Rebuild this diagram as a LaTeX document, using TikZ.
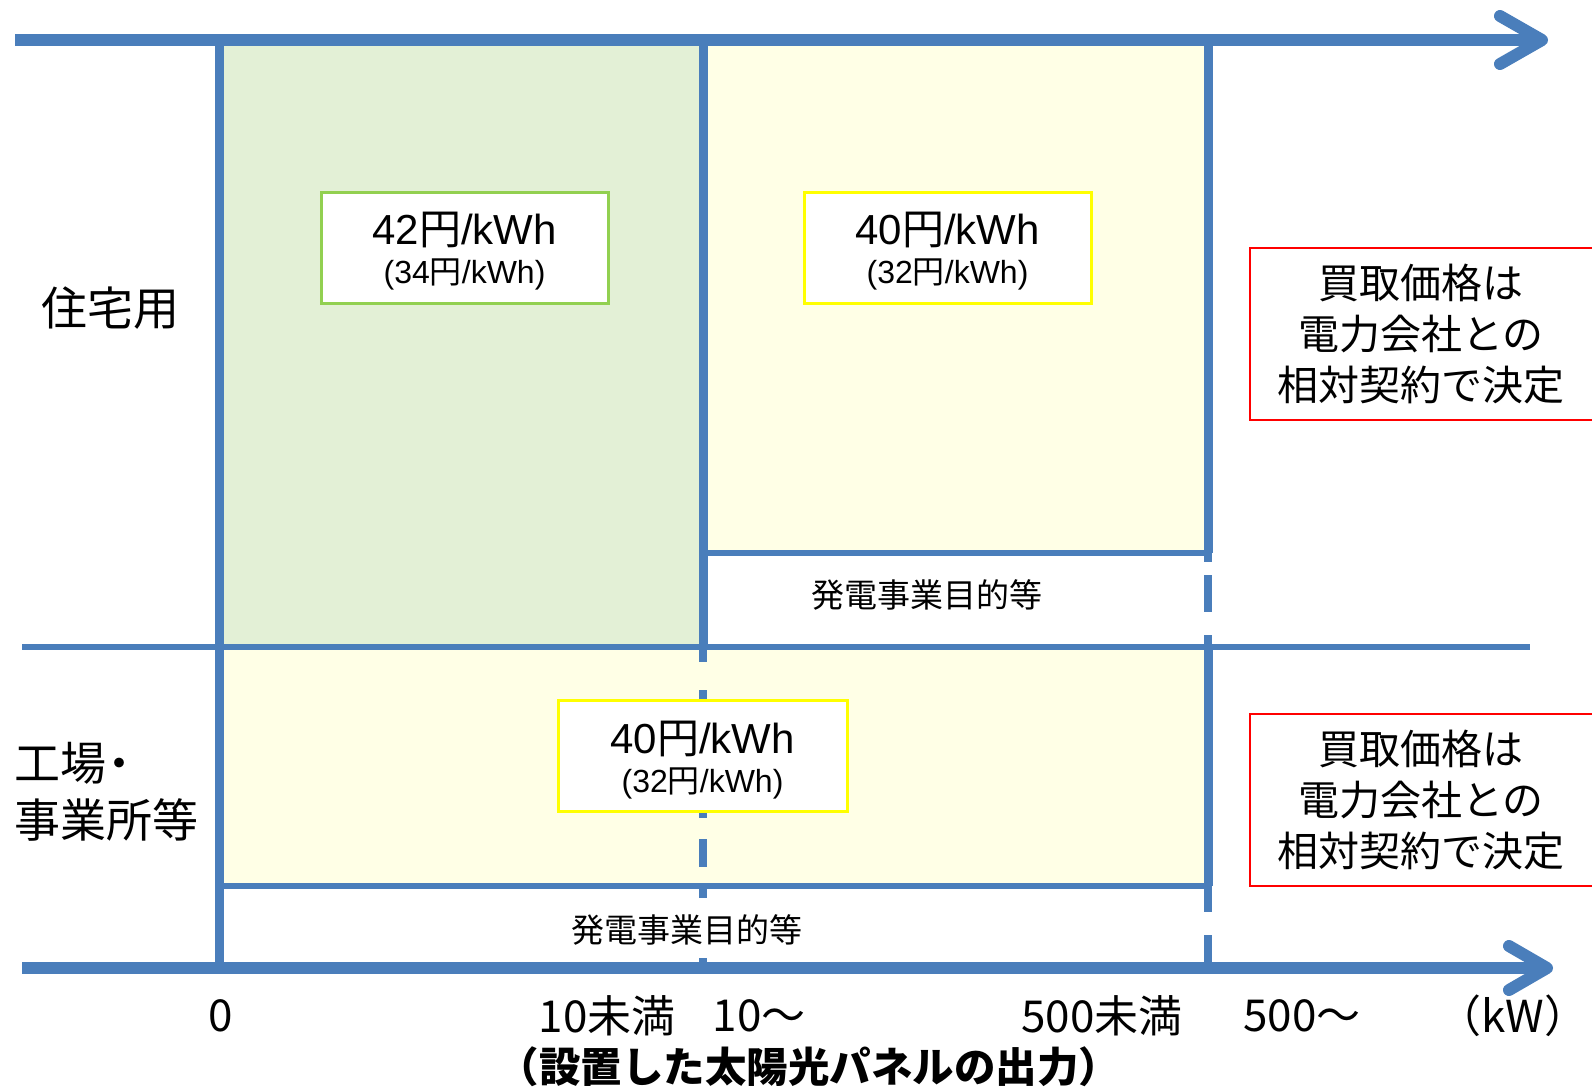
\documentclass[tikz,border=0pt]{standalone}
\usepackage{fontspec}
\setmainfont{Liberation Sans}
\newfontfamily\jp{Noto Sans CJK JP}
\definecolor{axisblue}{RGB}{74,126,187}
\definecolor{greenfill}{RGB}{227,240,214}
\definecolor{yellowfill}{RGB}{255,255,230}
\definecolor{greenedge}{RGB}{146,208,80}
\definecolor{yellowedge}{RGB}{255,255,0}
\definecolor{rededge}{RGB}{255,0,0}
\begin{document}
\begin{tikzpicture}[x=1pt,y=-1pt,
  axis/.style={draw=axisblue,line width=12pt},
  vline/.style={draw=axisblue,line width=9pt},
  hline/.style={draw=axisblue,line width=6pt},
  dashline/.style={draw=axisblue,line width=8pt},
  tipline/.style={draw=axisblue,line width=12pt,line cap=round,line join=round},
  pricebox/.style={line width=3pt,fill=white,minimum width=287pt,minimum height=111pt,inner sep=0pt},
  notebox/.style={draw=rededge,line width=1.5pt,fill=white},
  bigp/.style={inner sep=0pt,font=\fontsize{42}{42}\selectfont},
  smallp/.style={inner sep=0pt,font=\fontsize{32}{32}\selectfont},
  lbl/.style={inner sep=0pt,font=\jp\fontsize{46}{57}\selectfont},
  note/.style={inner sep=0pt,align=center,font=\jp\fontsize{41}{51}\selectfont},
  purpose/.style={inner sep=0pt,font=\jp\fontsize{33}{33}\selectfont},
  tick/.style={inner sep=0pt,font=\jp\fontsize{44}{44}\selectfont},
]
\useasboundingbox[fill=white] (0,0) rectangle (1592,1088);
% fills
\fill[greenfill] (219,40) rectangle (703,647);
\fill[yellowfill] (703,40) rectangle (1208,553);
\fill[yellowfill] (219,647) rectangle (1208,886);
% coordinates
\coordinate (tA) at (15,40);
\coordinate (tB) at (1542,40);
\coordinate (bA) at (22,968);
\coordinate (bB) at (1547,968);
\coordinate (x0t) at (219,40);
\coordinate (x0b) at (219,968);
\coordinate (x10t) at (703,40);
\coordinate (x10a) at (703,553);
\coordinate (x10m) at (703,647);
\coordinate (x10c) at (703,886);
\coordinate (x10b) at (703,968);
\coordinate (x500t) at (1208,40);
\coordinate (x500a) at (1208,553);
\coordinate (x500m) at (1208,647);
\coordinate (x500c) at (1208,886);
\coordinate (x500b) at (1208,968);
\coordinate (x0c) at (219,886);
\coordinate (sepL) at (22,647);
\coordinate (sepR) at (1530,647);
% lines
\draw[hline] (sepL) -- (sepR);
\draw[hline] (x10a) -- (x500a);
\draw[hline] (x0c) -- (x500c);
\draw[vline] (x0t) -- (x0b);
\draw[vline] (x10t) -- (x10m);
\draw[dashline,dash pattern=on 15pt off 28pt on 128pt off 21pt on 28pt off 40pt] (x10m) -- (x10c);
\draw[dashline,dash pattern=on 12pt off 60pt on 20pt] (x10c) -- (x10b);
\draw[vline] (x500t) -- (x500a);
\draw[dashline,dash pattern=on 9pt off 13pt on 37pt off 23pt on 20pt] (x500a) -- (x500m);
\draw[vline] (x500m) -- (x500c);
\draw[dashline,dash pattern=on 26pt off 23pt on 40pt] (x500c) -- (x500b);
% axes
\draw[axis] (tA) -- (tB);
\draw[tipline] ([shift={(-42,-24)}]tB) -- (tB) -- ([shift={(-42,24)}]tB);
\draw[axis] (bA) -- (bB);
\draw[tipline] ([shift={(-38,-22)}]bB) -- (bB) -- ([shift={(-38,22)}]bB);
% price boxes
\node[pricebox,draw=greenedge] (p42) at (464.5,247.5) {};
\node[bigp] (p42a) at (464.5,230) {42{\jp 円}/kWh};
\node[smallp] (p42b) at (464.5,274) {(34{\jp 円}/kWh)};
\node[pricebox,draw=yellowedge] (p40t) at (947.5,247.5) {};
\node[bigp] (p40ta) at (947.5,230) {40{\jp 円}/kWh};
\node[smallp] (p40tb) at (947.5,274) {(32{\jp 円}/kWh)};
\node[pricebox,draw=yellowedge,minimum width=289pt] (p40b) at (702.5,755.5) {};
\node[bigp] (p40ba) at (702.5,739) {40{\jp 円}/kWh};
\node[smallp] (p40bb) at (702.5,783) {(32{\jp 円}/kWh)};
% red note boxes
\draw[notebox] (1250,248) rectangle (1600,420);
\node[note] (n1) at (1421,334) {買取価格は\\電力会社との\\相対契約で決定};
\draw[notebox] (1250,714) rectangle (1600,886);
\node[note] (n2) at (1421,800) {買取価格は\\電力会社との\\相対契約で決定};
% row labels
\node[lbl] (jutaku) at (110,308) {住宅用};
\node[lbl,align=left,anchor=west] (kojo) at (14,792) {工場{\kern-10pt}・\\事業所等};
% purpose labels
\node[purpose] (pu1) at (927,595) {発電事業目的等};
\node[purpose] (pu2) at (687,930) {発電事業目的等};
% ticks
\node[tick] (t0) at (221,1016) {0};
\node[tick] (t1) at (607,1016) {10未満};
\node[tick] (t2) at (759,1016) {10～};
\node[tick] (t3) at (1102,1016) {500未満};
\node[tick] (t4) at (1302,1016) {500～};
\node[tick] (t5) at (1513,1016) {（kW）};
\node[inner sep=0pt,font=\jp\bfseries\fontsize{41.5}{41.5}\selectfont] (title) at (809,1067) {（設置した太陽光パネルの出力）};
\end{tikzpicture}
\end{document}
